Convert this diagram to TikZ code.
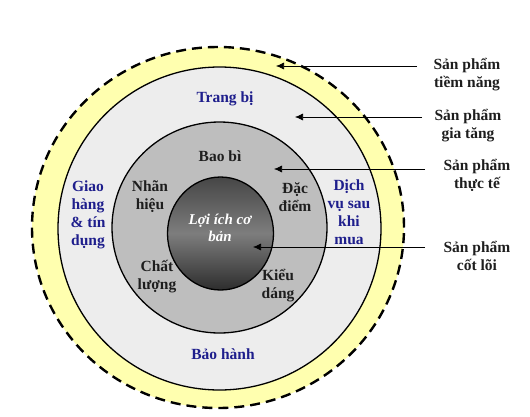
\documentclass[tikz,border=0pt]{standalone}
\usepackage{fontspec}
\setmainfont{Liberation Serif}
\usetikzlibrary{arrows.meta}
\definecolor{yel}{RGB}{255,255,175}
\definecolor{lightg}{RGB}{237,237,237}
\definecolor{midg}{RGB}{190,190,190}
\definecolor{gtop}{RGB}{70,70,70}
\definecolor{gmid}{RGB}{125,125,125}
\definecolor{gbot}{RGB}{45,45,45}
\definecolor{navy}{RGB}{30,30,140}
\definecolor{txt}{RGB}{30,30,30}
\begin{document}
\begin{tikzpicture}[x=1pt,y=-1pt,
  lbl/.style={font=\fontsize{15.5}{18}\selectfont\bfseries, align=center, inner sep=0pt, text=txt},
  blu/.style={lbl, text=navy},
  arr/.style={-{Latex[length=8pt,width=7pt]}, line width=0.6pt},
  ring/.style={line width=1.3pt}]
\useasboundingbox (0,0) rectangle (530,416);
\fill[white] (0,0) rectangle (530,416);
% rings
\fill[yel] (218,227.5) ellipse [x radius=186pt, y radius=180.5pt];
\draw[line width=2.4pt, dash pattern=on 10pt off 6pt] (218,227.5) ellipse [x radius=186pt, y radius=180.5pt];
\draw[ring, fill=lightg] (219.5,228.5) circle [radius=161.5pt];
\draw[ring, fill=midg] (219.5,227.5) ellipse [x radius=107.5pt, y radius=105.5pt];
\draw[ring, top color=gtop, bottom color=gbot, middle color=gmid] (220.5,233.5) ellipse [x radius=53pt, y radius=56.5pt];
% inner texts
\node[font=\fontsize{15}{17}\selectfont\bfseries\itshape, text=white, align=center, inner sep=0pt] (core) at (220,228) {Lợi ích cơ\\bản};
\node[lbl] (baobi) at (220,156) {Bao bì};
\node[lbl] (nhan) at (150,197) {Nhãn\\hiệu};
\node[lbl] (dac) at (295,197) {Đặc\\điểm};
\node[lbl] (chat) at (157,277) {Chất\\lượng};
\node[lbl] (kieu) at (278,286) {Kiểu\\dáng};
\node[blu] (trang) at (225,99) {Trang bị};
\node[blu] (giao) at (88,215) {Giao\\hàng\\\& tín\\dụng};
\node[blu] (dich) at (349,212) {Dịch\\vụ sau\\khi\\mua};
\node[blu] (bao) at (223,354) {Bảo hành};
% right labels
\node[lbl] (l1) at (467,75) {Sản phẩm\\tiềm năng};
\node[lbl] (l2) at (468,126) {Sản phẩm\\gia tăng};
\node[lbl] (l3) at (477,175.5) {Sản phẩm\\thực tế};
\node[lbl] (l4) at (477,255.5) {Sản phẩm\\cốt lõi};
\coordinate (s1) at (417,66); \coordinate (e1) at (276,66);
\coordinate (s2) at (422,117); \coordinate (e2) at (295,117);
\coordinate (s3) at (425,169); \coordinate (e3) at (274,169);
\coordinate (s4) at (425,247); \coordinate (e4) at (253,247);
\draw[arr] (s1) -- (e1);
\draw[arr] (s2) -- (e2);
\draw[arr] (s3) -- (e3);
\draw[arr] (s4) -- (e4);
\end{tikzpicture}
\end{document}
